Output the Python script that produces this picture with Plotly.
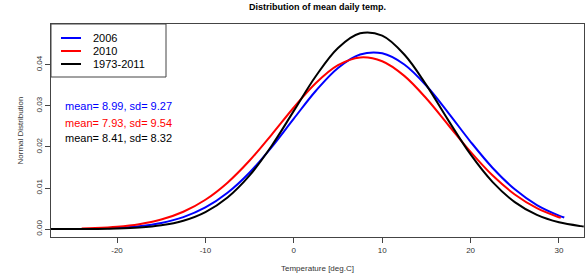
import plotly.graph_objects as go

# ---- data ----
series_names = ["2006", "2010", "1973-2011"]
series_colors = ["#0000FF", "#FF0000", "#000000"]
series_means = [8.99, 7.93, 8.41]
series_sds = [9.27, 9.54, 8.32]

x_2006 = [-21, -20, -17.5, -15, -12.5, -10, -7.5, -5, -2.5, 0, 2.5, 5, 7.5, 10,
          12.5, 15, 17.5, 20, 22.5, 25, 27.5, 30, 30.6]
y_2006 = [0.000229, 0.000324, 0.000726, 0.001512, 0.002930, 0.005280, 0.008846,
          0.013781, 0.019967, 0.02689, 0.03368, 0.03923, 0.04249, 0.04279,
          0.04006, 0.03488, 0.02824, 0.02126, 0.014883, 0.009688, 0.005862,
          0.003299, 0.002843]

x_2010 = [-24, -22.5, -20, -17.5, -15, -12.5, -10, -7.5, -5, -2.5, 0, 2.5, 5, 7.5,
          10, 12.5, 15, 17.5, 20, 22.5, 25, 27.5, 30, 30.2]
y_2010 = [0.000154, 0.000258, 0.000576, 0.001198, 0.002327, 0.004222, 0.007151,
          0.011308, 0.016690, 0.02301, 0.02960, 0.03556, 0.03989, 0.04178,
          0.04085, 0.03729, 0.03178, 0.02528, 0.01879, 0.013027, 0.008435,
          0.005099, 0.002879, 0.002742]

x_all = [-27.5, -25, -22.5, -20, -17.5, -15, -12.5, -10, -7.5, -5, -2.5, 0, 2.5, 5,
         7.5, 10, 12.5, 15, 17.5, 20, 22.5, 25, 27.5, 30, 32.5, 32.8]
y_all = [0.0000043, 0.000015, 0.000048, 0.000141, 0.000376, 0.000916, 0.002039,
         0.004146, 0.007705, 0.013081, 0.020293, 0.02877, 0.03726, 0.04409,
         0.04766, 0.04708, 0.04249, 0.03504, 0.02640, 0.01817, 0.011431,
         0.006569, 0.003449, 0.001654, 0.000725, 0.000653]

x_ticks = [-20, -10, 0, 10, 20, 30]
x_tick_labels = ["-20", "-10", "0", "10", "20", "30"]
y_ticks = [0.00, 0.01, 0.02, 0.03, 0.04]
y_tick_labels = ["0.00", "0.01", "0.02", "0.03", "0.04"]

title_text = "Distribution of mean daily temp."
x_title = "Temperature [deg.C]"
y_title = "Normal Distribution"

FONT = "Liberation Sans, Arial, sans-serif"

fig = go.Figure()
for xs, ys, name, col in zip([x_2006, x_2010, x_all], [y_2006, y_2010, y_all],
                             series_names, series_colors):
    fig.add_trace(go.Scatter(x=xs, y=ys, mode="lines", name=name,
                             line=dict(color=col, width=2, shape="spline"),
                             showlegend=False, hoverinfo="skip"))

axis_col = "#444444"
fig.update_layout(
    width=585, height=278,
    margin=dict(l=51, r=1, t=24, b=41),
    paper_bgcolor="white", plot_bgcolor="white",
    font=dict(family=FONT, color="#333333", size=8),
    title=dict(text="<b>" + title_text + "</b>", x=0.5, xref="paper",
               y=1 - 7 / 278, yref="container", yanchor="middle",
               xanchor="center", font=dict(size=9, color="#000000", family=FONT)),
    xaxis=dict(range=[-27.47, 32.83], tickvals=x_ticks, ticktext=x_tick_labels,
               showgrid=False, zeroline=False, showline=True, mirror=True,
               linecolor=axis_col, linewidth=1, ticks="outside", ticklen=5,
               tickcolor=axis_col, tickfont=dict(size=8, color="#333333")),
    yaxis=dict(range=[-0.00192, 0.04992], tickvals=y_ticks, ticktext=y_tick_labels,
               showgrid=False, zeroline=False, showline=True, mirror=True,
               linecolor=axis_col, linewidth=1, ticks="outside", ticklen=5,
               tickcolor=axis_col, tickangle=-90,
               tickfont=dict(size=8, color="#333333")),
)

# axis titles
fig.add_annotation(text=x_title, xref="paper", yref="paper", x=0.5, y=-31 / 213,
                   xanchor="center", yanchor="middle", showarrow=False,
                   font=dict(size=8, color="#333333"))
fig.add_annotation(text=y_title, xref="paper", yref="paper", x=-31 / 533, y=0.5,
                   xanchor="center", yanchor="middle", showarrow=False,
                   textangle=-90, font=dict(size=8, color="#333333"))

# manual legend (R style)
fig.add_shape(type="rect", xref="paper", yref="paper", x0=0, x1=115 / 533,
              y0=1 - 53 / 213, y1=1, line=dict(color=axis_col, width=1),
              fillcolor="white", layer="above")
row_y = [1 - 14 / 213, 1 - 27 / 213, 1 - 40 / 213]
for name, col, yy in zip(series_names, series_colors, row_y):
    fig.add_shape(type="line", xref="paper", yref="paper", x0=10 / 533, x1=30 / 533,
                  y0=yy, y1=yy, line=dict(color=col, width=2), layer="above")
    fig.add_annotation(text=name, xref="paper", yref="paper", x=40 / 533, y=yy,
                       xanchor="left", yanchor="middle", showarrow=False,
                       font=dict(size=11, color="#000000"))

# mean / sd text
stat_y = [1 - 82 / 213, 1 - 99 / 213, 1 - 114 / 213]
for m, s, col, yy in zip(series_means, series_sds, series_colors, stat_y):
    fig.add_annotation(text=f"mean= {m:.2f}, sd= {s:.2f}", xref="paper", yref="paper",
                       x=12 / 533, y=yy, xanchor="left", yanchor="middle",
                       showarrow=False, font=dict(size=11, color=col))

fig.write_html("out.html", config={"displayModeBar": False},
               post_script="document.body.style.margin='0';document.body.style.overflow='hidden';")
